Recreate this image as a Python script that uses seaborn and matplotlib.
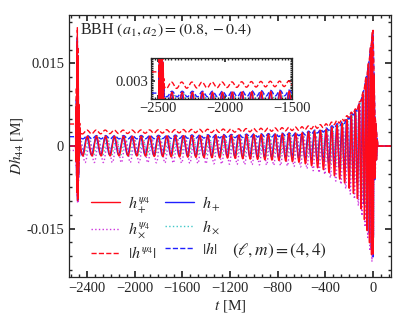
import numpy as np
import matplotlib

matplotlib.use("Agg")
import matplotlib.pyplot as plt
import seaborn as sns
from matplotlib.ticker import MultipleLocator

# envelope knots (t in M, strain in M)
t_knot = [-2550, -2495, -2470, -2400, -2000, -1600, -1200, -800, -600, -400,
          -250, -134, -84, -42, -15, 0, 15, 40, 150]
plus_psi4_hi = [0, 0, 0.0018, 0.0018, 0.0018, 0.0019, 0.0020, 0.0022, 0.0024, 0.0030,
                0.0042, 0.0065, 0.0096, 0.0144, 0.0190, 0.0216, 0.0060, 0, 0]
plus_psi4_lo = [0, 0, -0.0018, -0.0018, -0.0018, -0.0020, -0.0022, -0.0026, -0.0030, -0.0044,
                -0.0064, -0.0094, -0.0124, -0.0160, -0.0195, -0.0212, -0.0060, 0, 0]
cross_psi4_hi = [-0.0008, -0.0008, 0.0008, 0.0009, 0.0010, 0.0011, 0.0012, 0.0013, 0.0016, 0.0020,
                 0.0032, 0.0055, 0.0085, 0.0130, 0.0180, 0.0205, 0.0050, 0, 0]
cross_psi4_lo = [-0.0008, -0.0008, -0.0030, -0.0030, -0.0030, -0.0031, -0.0033, -0.0035, -0.0038, -0.0052,
                 -0.0072, -0.0102, -0.0132, -0.0168, -0.0205, -0.0218, -0.0060, 0, 0]
abs_psi4_hi = [0.0040, 0.0040, 0.0029, 0.0029, 0.0029, 0.0030, 0.0031, 0.0033, 0.0035, 0.0040,
               0.0050, 0.0070, 0.0098, 0.0145, 0.0190, 0.0214, 0.0060, 0, 0]
abs_psi4_lo = [0.0040, 0.0040, 0.0022, 0.0022, 0.0023, 0.0024, 0.0025, 0.0027, 0.0029, 0.0034,
               0.0044, 0.0064, 0.0092, 0.0138, 0.0184, 0.0210, 0.0060, 0, 0]
h_amp = [0, 0, 0.0016, 0.0016, 0.0016, 0.0017, 0.0018, 0.0020, 0.0022, 0.0029,
         0.0042, 0.0066, 0.0095, 0.0140, 0.0185, 0.0208, 0.0055, 0, 0]
h_abs = [0.0017, 0.0017, 0.0016, 0.0016, 0.0016, 0.0017, 0.0018, 0.0020, 0.0022, 0.0029,
         0.0042, 0.0066, 0.0095, 0.0140, 0.0185, 0.0208, 0.0055, 0, 0]
h_abs_ripple = [0, 0, 0.0003, 0.0003, 0.0003, 0.0003, 0.0003, 0.0003, 0.0003, 0.0003,
                0.0003, 0.0003, 0.0003, 0.0003, 0.0003, 0.0002, 0, 0, 0]

# wave period along the inspiral
t_per = [-2550, -2000, -1500, -1000, -600, -300, -100, -30, 0, 150]
period = [78, 74, 68, 62, 54, 44, 30, 18, 14, 14]

# junk radiation burst at the start
t_junk = [-2495, -2488, -2481, -2475, -2468, -2460, -2452]
junk_hi = [0, 0.007, 0.019, 0.014, 0.005, 0.0015, 0]
junk_lo = [0, -0.004, -0.010, -0.012, -0.005, -0.0015, 0]

t = np.arange(-2550, 150.01, 0.25)
phase = 2 * np.pi * np.cumsum(0.25 / np.interp(t, t_per, period))


def band(hi, lo, shift=0.0):
    hi = np.interp(t, t_knot, hi)
    lo = np.interp(t, t_knot, lo)
    return 0.5 * (hi + lo) + 0.5 * (hi - lo) * np.cos(phase + shift)


jh = np.interp(t, t_junk, junk_hi)
jl = np.interp(t, t_junk, junk_lo)
burst = 0.5 * (jh + jl) + 0.5 * (jh - jl) * np.cos(2 * np.pi * t / 4.0)

amp = np.interp(t, t_knot, h_amp)
abs_h = np.interp(t, t_knot, h_abs) + np.interp(t, t_knot, h_abs_ripple) * np.cos(phase)
curves = {
    "h_cross": (amp * np.sin(phase + 0.4) + 0.7 * burst, "#40c8c8", ":"),
    "h_plus": (amp * np.cos(phase + 0.4) + burst, "#2020ff", "-"),
    "h_abs": (abs_h + burst, "#2020ff", "--"),
    "cross_psi4": (band(cross_psi4_hi, cross_psi4_lo, -np.pi / 2) + 0.8 * burst, "#cc33dd", ":"),
    "plus_psi4": (band(plus_psi4_hi, plus_psi4_lo) + burst, "#ff0a1a", "-"),
    "abs_psi4": (band(abs_psi4_hi, abs_psi4_lo, 0.3) + burst, "#ff0a1a", "--"),
}
labels = {
    "plus_psi4": r"$h_+^{\psi_4}$",
    "cross_psi4": r"$h_\times^{\psi_4}$",
    "abs_psi4": r"$|h^{\psi_4}|$",
    "h_plus": r"$h_+$",
    "h_cross": r"$h_\times$",
    "h_abs": r"$|h|$",
}

sns.set_theme(style="ticks")
plt.rcParams.update({
    "font.family": ["Liberation Serif", "DejaVu Serif"],
    "mathtext.fontset": "stix",
    "font.size": 10,
    "xtick.direction": "in",
    "ytick.direction": "in",
    "xtick.top": True,
    "ytick.right": True,
    "xtick.major.size": 4,
    "ytick.major.size": 4,
    "xtick.minor.size": 2,
    "ytick.minor.size": 2,
    "axes.linewidth": 0.9,
})

fig = plt.figure(figsize=(4.07, 3.26), dpi=100)
ax = fig.add_axes([0.1695, 0.150, 0.791, 0.804])

for key, (y, col, ls) in curves.items():
    sns.lineplot(x=t, y=y, ax=ax, color=col, linestyle=ls, lw=1.0,
                 label=labels[key], estimator=None, sort=False)

ax.set_xlim(-2550, 150)
ax.set_ylim(-0.0238, 0.0238)
ax.set_xticks([-2400, -2000, -1600, -1200, -800, -400, 0])
ax.xaxis.set_minor_locator(MultipleLocator(400 / 6))
ax.set_yticks([-0.015, 0, 0.015])
ax.set_yticklabels(["-0.015", "0", "0.015"])
ax.yaxis.set_minor_locator(MultipleLocator(0.0025))
ax.tick_params(labelsize=10.5)
ax.set_xlabel(r"$t$ [M]", fontsize=11, labelpad=2)
ax.set_ylabel(r"$Dh_{44}$ [M]", fontsize=11, labelpad=1)

handles, labs = ax.get_legend_handles_labels()
order = [labs.index(labels[k]) for k in
         ["plus_psi4", "cross_psi4", "abs_psi4", "h_plus", "h_cross", "h_abs"]]
ax.legend([handles[i] for i in order], [labs[i] for i in order],
          loc="upper left", bbox_to_anchor=(0.025, 0.37), ncol=2, frameon=False,
          handlelength=1.8, handletextpad=0.5, columnspacing=0.5,
          labelspacing=0.35, fontsize=11.5)

ax.text(0.035, 0.975, r"BBH $(a_1, a_2) = (0.8, -0.4)$", transform=ax.transAxes,
        ha="left", va="top", fontsize=11.5)
ax.text(0.655, 0.10, r"$(\ell, m) = (4, 4)$", transform=ax.transAxes,
        ha="center", va="center", fontsize=12.5)

# zoom on the early inspiral
ins = fig.add_axes([0.371, 0.696, 0.346, 0.126])
for key, (y, col, ls) in curves.items():
    sns.lineplot(x=t, y=y, ax=ins, color=col, linestyle=ls, lw=1.0,
                 legend=False, estimator=None, sort=False)
ins.set_xlim(-2552, -1500)
ins.set_ylim(0.00105, 0.0055)
ins.set_xticks([-2500, -2000, -1500])
ins.xaxis.set_minor_locator(MultipleLocator(25))
ins.set_yticks([0.003])
ins.set_yticklabels(["0.003"])
ins.yaxis.set_minor_locator(MultipleLocator(0.0002))
ins.tick_params(labelsize=10.5, pad=2)
ins.tick_params(which="major", length=3)
ins.tick_params(which="minor", length=1.5)
ins.set_xlabel("")
ins.set_ylabel("")

fig.savefig("out.png", dpi=100)
